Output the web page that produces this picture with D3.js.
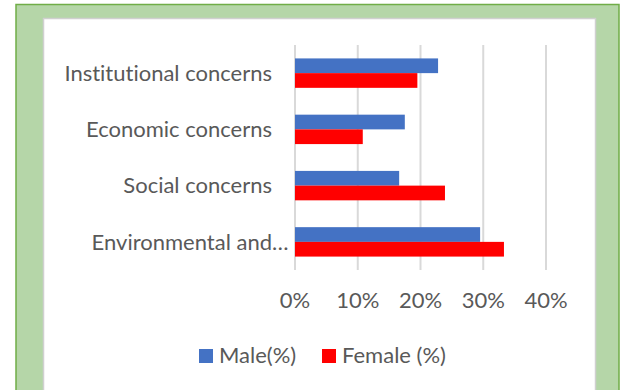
<!DOCTYPE html>
<html>
<head>
<meta charset="utf-8">
<script src="https://cdn.jsdelivr.net/npm/d3@7"></script>
<style>
  html, body { margin: 0; padding: 0; background: #ffffff; }
  svg { display: block; }
  text { font-family: Lato, "Open Sans", sans-serif; fill: #595959; font-variant-ligatures: none; }
</style>
</head>
<body>
<svg id="chart" width="621" height="390"></svg>
<script>
// Survey concern categories, top to bottom
const categories = [
  "Institutional concerns",
  "Economic concerns",
  "Social concerns",
  "Environmental and…"
];
// Share of respondents (%) per category
const maleValues = [22.8, 17.5, 16.6, 29.5];
const femaleValues = [19.5, 10.8, 23.9, 33.3];
const seriesNames = ["Male(%)", "Female (%)"];
const tickValues = [0, 10, 20, 30, 40];

const colors = { "Male(%)": "#4472c4", "Female (%)": "#ff0000" };
const fontSize = 22;

const svg = d3.select("#chart");

// Green frame with white inner panel
svg.append("rect").attr("x", 16).attr("y", 4.5).attr("width", 603).attr("height", 400)
  .attr("fill", "#b5d6a8").attr("stroke", "#70ad47").attr("stroke-width", 1.5);
svg.append("rect").attr("x", 43.5).attr("y", 18.5).attr("width", 552).attr("height", 390)
  .attr("fill", "#ffffff").attr("stroke", "#d0d0d0").attr("stroke-width", 1.5);

const plot = { left: 295, right: 546, top: 45, bottom: 270 };

const x = d3.scaleLinear().domain([0, 40]).range([plot.left, plot.right]);
const y = d3.scaleBand().domain(categories).range([plot.top, plot.bottom])
  .paddingInner(0.477).paddingOuter(0.2385);
const ySub = d3.scaleBand().domain(seriesNames).range([0, y.bandwidth()]);

// Vertical gridlines
svg.append("g").selectAll("line").data(tickValues).join("line")
  .attr("x1", d => x(d)).attr("x2", d => x(d))
  .attr("y1", plot.top).attr("y2", plot.bottom)
  .attr("stroke", "#d9d9d9").attr("stroke-width", 2);

// Bars
const rows = categories.map((c, i) => ({
  category: c,
  values: [
    { series: seriesNames[0], value: maleValues[i] },
    { series: seriesNames[1], value: femaleValues[i] }
  ]
}));

svg.append("g").selectAll("g").data(rows).join("g")
  .attr("transform", d => `translate(0,${y(d.category)})`)
  .selectAll("rect").data(d => d.values).join("rect")
  .attr("x", x(0))
  .attr("y", d => ySub(d.series))
  .attr("width", d => x(d.value) - x(0))
  .attr("height", ySub.bandwidth())
  .attr("fill", d => colors[d.series]);

// Category axis labels
const labelX = 272;
const catLabels = svg.append("g").selectAll("text").data(categories).join("text")
  .attr("x", labelX)
  .attr("y", d => y(d) + y.bandwidth() / 2)
  .attr("dy", "0.35em")
  .attr("text-anchor", "end")
  .attr("font-size", fontSize)
  .text(d => d);
// Truncated label: its ellipsis hangs past the label edge
catLabels.filter(d => d.endsWith("…")).each(function () {
  const el = d3.select(this);
  el.text("…");
  const ell = this.getComputedTextLength();
  el.text(d => d).attr("x", labelX + ell);
});

// Value axis tick labels
svg.append("g").selectAll("text").data(tickValues).join("text")
  .attr("x", d => x(d))
  .attr("y", 308)
  .attr("text-anchor", "middle")
  .attr("font-size", fontSize)
  .text(d => d + "%");

// Legend
const legendItems = [
  { name: seriesNames[0], x: 199 },
  { name: seriesNames[1], x: 322 }
];
const lg = svg.append("g").selectAll("g").data(legendItems).join("g")
  .attr("transform", d => `translate(${d.x},349)`);
lg.append("rect").attr("width", 14).attr("height", 14).attr("fill", d => colors[d.name]);
lg.append("text").attr("x", 20).attr("y", 14).attr("font-size", fontSize).text(d => d.name);
</script>
</body>
</html>
